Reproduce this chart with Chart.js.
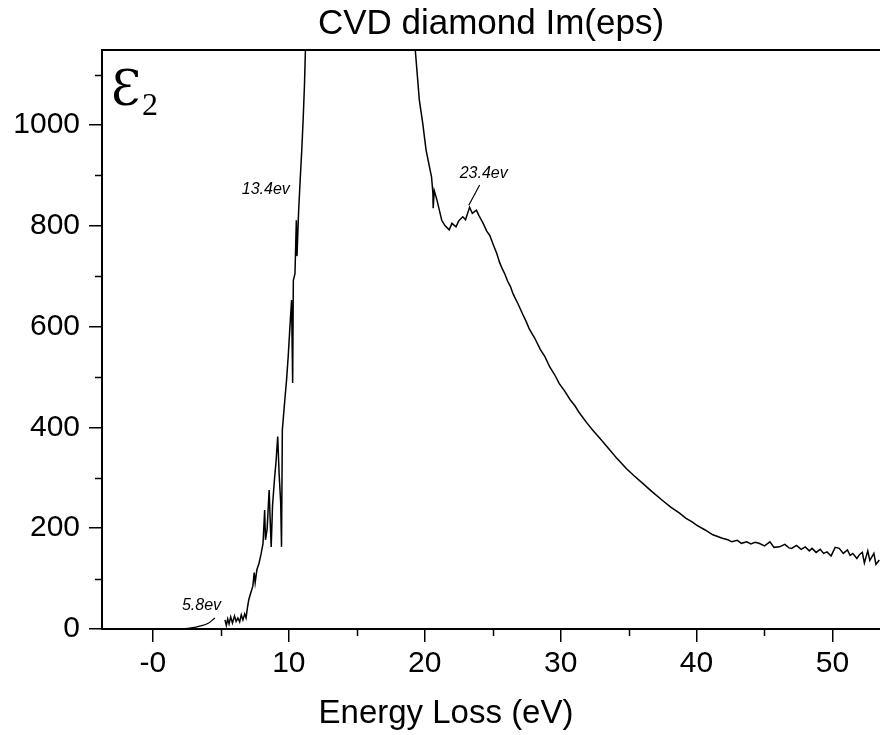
<!DOCTYPE html>
<html>
<head>
<meta charset="utf-8">
<script src="https://cdn.jsdelivr.net/npm/chart.js@4.4.1/dist/chart.umd.min.js"></script>
<style>
html,body{margin:0;padding:0;background:#fff;}
#wrap{width:880px;height:735px;}
</style>
</head>
<body>
<div id="wrap"><canvas id="c" width="880" height="735"></canvas></div>
<script>
// ---- data ----
const energyLoss = [
  5.30, 5.40, 5.50, 5.60, 5.72, 5.85, 6.00, 6.12, 6.25, 6.38, 6.50, 6.62, 6.75, 6.85, 6.95,
  7.05, 7.20, 7.35, 7.45, 7.52, 7.65, 7.80, 7.95, 8.10, 8.22, 8.28, 8.40, 8.55, 8.62, 8.70,
  8.80, 8.95, 9.05, 9.18, 9.28, 9.40, 9.46, 9.52, 9.60, 9.72, 9.83, 9.95, 10.08, 10.20, 10.28,
  10.33, 10.45, 10.55, 10.60, 10.72, 10.85, 10.95, 11.05, 11.15, 11.22,
  11.30, 12.50, 13.40, 15.00, 17.00, 18.60, 19.10,
  19.30, 19.60, 19.85, 20.10, 20.50, 20.60, 20.62, 20.70, 20.90, 21.25, 21.50, 21.80, 22.00,
  22.30, 22.50, 22.80, 23.00, 23.30, 23.50, 23.80, 24.00, 24.30, 24.55, 24.80, 25.05, 25.30,
  25.50, 25.70, 25.90, 26.10, 26.30, 26.50, 26.85, 27.20, 27.45, 27.70, 28.10, 28.50, 28.85,
  29.20, 29.55, 29.90, 30.30, 30.70, 31.05, 31.40, 31.90, 32.35, 32.90, 33.40, 34.10, 34.85,
  35.40, 36.00, 36.70, 37.50, 38.10, 38.75, 39.20, 39.70, 40.00, 40.60, 41.20, 41.90, 42.30,
  42.60, 43.00, 43.30, 43.70, 44.00, 44.30, 44.60, 45.00, 45.40, 45.70, 46.10, 46.50, 46.80,
  47.00, 47.35, 47.70, 48.00, 48.30, 48.50, 48.80, 49.10, 49.35, 49.60, 49.90, 50.20, 50.50,
  50.80, 51.10, 51.30, 51.50, 51.80, 52.00, 52.20, 52.35, 52.60, 52.75, 52.90, 53.05, 53.20, 53.45
];
const eps2 = [
  18, 7, 20, 10, 24, 12, 26, 15, 22, 14, 28, 18, 30, 22, 42,
  58, 72, 85, 112, 92, 118, 130, 148, 170, 236, 177, 198, 276, 220, 163,
  245, 300, 330, 382, 310, 250, 163, 395, 421, 460, 494, 540, 600, 653, 488,
  692, 705, 811, 740, 830, 900, 950, 1010, 1080, 1150,
  1300, 1800, 2000, 1900, 1600, 1350, 1220,
  1150, 1050, 1004, 950, 897, 865, 835, 870, 851, 811, 800, 792, 805,
  798, 810, 818, 812, 837, 825, 831, 820, 805, 790, 780, 762, 745,
  728, 715, 704, 690, 680, 665, 646, 625, 611, 595, 577, 555, 540,
  520, 505, 487, 472, 455, 443, 428, 410, 395, 378, 362, 340, 318,
  304, 290, 273, 255, 242, 230, 220, 212, 206, 197, 187, 180, 177,
  173, 176, 170, 173, 169, 172, 170, 165, 173, 162, 163, 168, 161,
  160, 166, 158, 163, 155, 160, 152, 158, 150, 153, 145, 162, 160,
  150, 157, 146, 150, 140, 148, 152, 131, 155, 136, 143, 150, 128, 137
];
// hand-drawn onset line near 5.8 eV
const onsetEnergy = [2.0, 2.8, 3.5, 4.1, 4.56];
const onsetEps2 = [0, 2, 6, 12, 22];

const xTickValues = [0, 10, 20, 30, 40, 50];
const xMinorTickValues = [5, 15, 25, 35, 45];
const yTickValues = [0, 200, 400, 600, 800, 1000];
const yMinorTickValues = [100, 300, 500, 700, 900, 1100];

const annotationTexts = ['13.4ev', '23.4ev', '5.8ev'];
const annotationEnergy = [10.07, 22.57, 2.13];
const annotationEps2 = [873, 903, 46];
const pointerEnergy = [24.04, 23.24];
const pointerEps2 = [881, 841];

// ---- chart ----
const FONT = "'Liberation Sans', Arial, Helvetica, sans-serif";

const decor = {
  id: 'decor',
  afterDraw(chart) {
    const ctx = chart.ctx;
    const a = chart.chartArea;
    const xs = chart.scales.x, ys = chart.scales.y;
    ctx.save();
    ctx.strokeStyle = '#000';
    // top frame line
    ctx.lineWidth = 2;
    ctx.beginPath();
    ctx.moveTo(a.left, a.top);
    ctx.lineTo(a.right, a.top);
    ctx.stroke();
    // minor ticks
    ctx.lineWidth = 1.5;
    ctx.beginPath();
    xMinorTickValues.forEach(v => {
      const px = Math.round(xs.getPixelForValue(v)) + 0.5;
      ctx.moveTo(px, a.bottom);
      ctx.lineTo(px, a.bottom + 7);
    });
    yMinorTickValues.forEach(v => {
      const py = Math.round(ys.getPixelForValue(v)) + 0.5;
      ctx.moveTo(a.left - 7, py);
      ctx.lineTo(a.left, py);
    });
    ctx.stroke();
    // annotations
    ctx.fillStyle = '#000';
    ctx.font = "italic 16px " + FONT;
    ctx.textBaseline = 'middle';
    annotationTexts.forEach((t, i) => {
      ctx.textAlign = i === 0 ? 'right' : 'left';
      ctx.fillText(t, xs.getPixelForValue(annotationEnergy[i]), ys.getPixelForValue(annotationEps2[i]));
    });
    ctx.lineWidth = 1.2;
    ctx.beginPath();
    ctx.moveTo(xs.getPixelForValue(pointerEnergy[0]), ys.getPixelForValue(pointerEps2[0]));
    ctx.lineTo(xs.getPixelForValue(pointerEnergy[1]), ys.getPixelForValue(pointerEps2[1]));
    ctx.stroke();
    // epsilon_2 label
    ctx.textAlign = 'left';
    ctx.textBaseline = 'alphabetic';
    ctx.font = "48px 'DejaVu Serif', 'Liberation Serif', serif";
    ctx.fillText('\u0190', a.left + 9, a.top + 55);
    ctx.font = "32px 'Liberation Serif', serif";
    ctx.fillText('2', a.left + 40, a.top + 65);
    // x axis title
    ctx.font = "33px " + FONT;
    ctx.textAlign = 'center';
    ctx.fillText('Energy Loss (eV)', 446, 723);
    ctx.restore();
  }
};

new Chart(document.getElementById('c'), {
  type: 'line',
  data: {
    datasets: [
      {
        data: energyLoss.map((x, i) => ({ x: x, y: eps2[i] })),
        borderColor: '#000', borderWidth: 1.5, pointRadius: 0, tension: 0, fill: false
      },
      {
        data: onsetEnergy.map((x, i) => ({ x: x, y: onsetEps2[i] })),
        borderColor: '#000', borderWidth: 1.3, pointRadius: 0, tension: 0.4, fill: false
      }
    ]
  },
  options: {
    responsive: false,
    animation: false,
    devicePixelRatio: 1,
    layout: { padding: 0 },
    plugins: {
      legend: { display: false },
      tooltip: { enabled: false },
      title: {
        display: true, text: 'CVD diamond Im(eps)', fullSize: false, color: '#000',
        font: { family: FONT, size: 35, weight: 'normal' },
        padding: { top: 3, bottom: 5 }
      }
    },
    scales: {
      x: {
        type: 'linear', min: -3.75, max: 53.5,
        afterBuildTicks: s => { s.ticks = xTickValues.map(v => ({ value: v })); },
        afterFit: s => { s.height = 106; },
        ticks: {
          color: '#000', font: { family: FONT, size: 30 }, padding: 4,
          maxRotation: 0, autoSkip: false,
          callback: v => (v === 0 ? '-0' : String(v))
        },
        grid: { drawOnChartArea: false, drawTicks: true, tickLength: 13, color: '#000', lineWidth: 1.5 },
        border: { display: true, color: '#000', width: 2 }
      },
      y: {
        type: 'linear', min: 0, max: 1149,
        afterBuildTicks: s => { s.ticks = yTickValues.map(v => ({ value: v })); },
        afterFit: s => { s.width = 102; },
        ticks: {
          color: '#000', font: { family: FONT, size: 30 }, padding: 9, autoSkip: false,
          callback: v => String(v)
        },
        grid: { drawOnChartArea: false, drawTicks: true, tickLength: 13, color: '#000', lineWidth: 1.5 },
        border: { display: true, color: '#000', width: 2 }
      }
    }
  },
  plugins: [decor]
});
</script>
</body>
</html>
